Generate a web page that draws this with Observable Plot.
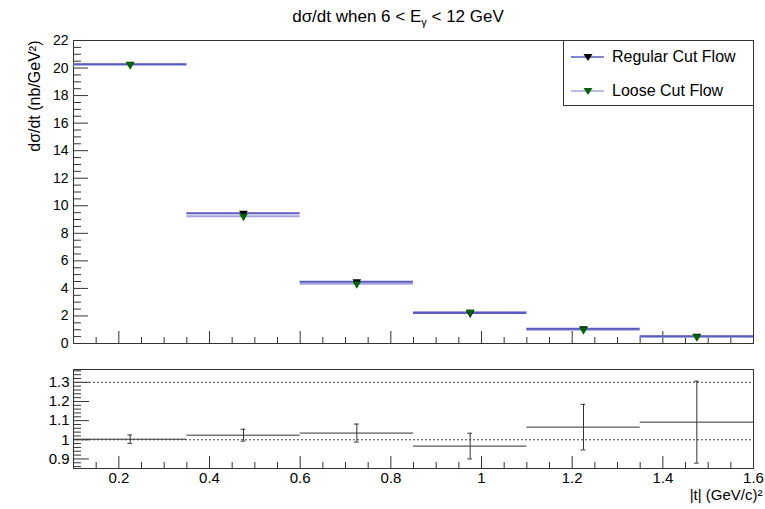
<!DOCTYPE html>
<html><head><meta charset="utf-8">
<script src="https://cdn.jsdelivr.net/npm/d3@7"></script>
<script src="https://cdn.jsdelivr.net/npm/@observablehq/plot@0.6"></script>
<style>
body{margin:0;background:#fff;}
#chart{position:relative;width:765px;height:509px;overflow:hidden;font-family:"Liberation Sans",Arial,sans-serif;color:#000;background:#fff}
#title{position:absolute;left:0;width:796px;top:7px;text-align:center;font-size:17px;white-space:nowrap}
#toppanel,#botpanel{position:absolute;left:0}
#toppanel{top:0}
#botpanel{top:352px}
#legend{position:absolute;left:563px;top:40px;width:189px;height:64px;border:1px solid #333;background:#fff;font-size:16px}
.row{position:absolute;left:0;height:20px;display:flex;align-items:center}
.row svg{margin-left:7px}
.row span{margin-left:7px;white-space:nowrap}
</style></head>
<body><div id="chart">
<div id="toppanel"></div>
<div id="botpanel"></div>
<div id="title">dσ/dt when 6 &lt; E<sub style="font-size:11px">γ</sub> &lt; 12 GeV</div>
<div id="legend"></div>
</div>
<script>
// ---- data ----
const binLo = [0.10, 0.35, 0.60, 0.85, 1.10, 1.35];
const binHi = [0.35, 0.60, 0.85, 1.10, 1.35, 1.60];
const regular = [20.28, 9.46, 4.48, 2.22, 1.07, 0.53];
const loose   = [20.25, 9.24, 4.33, 2.29, 1.00, 0.49];
const ratio    = [1.003, 1.024, 1.035, 0.967, 1.066, 1.092];
const ratioErr = [0.022, 0.031, 0.047, 0.067, 0.119, 0.214];
const seriesNames = ["Regular Cut Flow", "Loose Cut Flow"];
const seriesLine = ["#5a5ac0", "#a4a4de"];
const seriesMarker = ["#000000", "#006400"];
const xMajor = [0.2, 0.4, 0.6, 0.8, 1.0, 1.2, 1.4, 1.6];
const xLabels = ["0.2", "0.4", "0.6", "0.8", "1", "1.2", "1.4", "1.6"];
const yTopMajor = [0, 2, 4, 6, 8, 10, 12, 14, 16, 18, 20, 22];
const yBotMajor = [0.9, 1.0, 1.1, 1.2, 1.3];
const yBotLabels = ["0.9", "1", "1.1", "1.2", "1.3"];
const refLines = [1.0, 1.3];

(function () {
const bins = binLo.map((lo, i) => ({lo, hi: binHi[i], mid: (lo + binHi[i]) / 2,
  regular: regular[i], loose: loose[i], ratio: ratio[i], err: ratioErr[i]}));
const xMinor = d3.range(3, 32).map(k => k * 0.05).filter(v => Math.abs(v * 5 - Math.round(v * 5)) > 1e-6);
const yTopMinor = d3.range(0, 45).map(k => k * 0.5).filter(v => v % 2 !== 0);
const yBotMinor = d3.range(43, 69).map(k => k * 0.02).filter(v => Math.abs(v * 10 - Math.round(v * 10)) > 1e-6);

const W = 765, ML = 73, MR = 12;
const innerW = W - ML - MR;
const ink = "#333";

// ---- top panel ----
const TH = 352, TMT = 40, TMB = 9, innerTH = TH - TMT - TMB;
const topPlot = Plot.plot({
  width: W, height: TH, marginLeft: ML, marginRight: MR, marginTop: TMT, marginBottom: TMB,
  style: {fontFamily: "Liberation Sans, Arial, sans-serif", color: "#000", background: "#fff"},
  x: {domain: [0.1, 1.6], axis: null},
  y: {domain: [0, 22], axis: null},
  marks: [
    Plot.frame({stroke: ink}),
    Plot.axisY({ticks: yTopMajor, tickSize: 0, tickPadding: 5, fontSize: 14, label: null, tickFormat: d => String(d)}),
    Plot.tickY(yTopMajor, {y: d => d, stroke: ink, insetRight: innerW - 15}),
    Plot.tickY(yTopMinor, {y: d => d, stroke: ink, insetRight: innerW - 8}),
    Plot.tickX(xMajor, {x: d => d, stroke: ink, insetTop: innerTH - 12}),
    Plot.tickX(xMinor, {x: d => d, stroke: ink, insetTop: innerTH - 6}),
    Plot.ruleY(bins, {y: "loose", x1: "lo", x2: "hi", stroke: seriesLine[1], strokeWidth: 2}),
    Plot.ruleY(bins, {y: "regular", x1: "lo", x2: "hi", stroke: seriesLine[0], strokeWidth: 2}),
    Plot.dot(bins, {x: "mid", y: "regular", symbol: "triangle", rotate: 180, r: 3.2, fill: seriesMarker[0], stroke: "none"}),
    Plot.dot(bins, {x: "mid", y: "loose", symbol: "triangle", rotate: 180, r: 3.2, fill: seriesMarker[1], stroke: "none"}),
    Plot.text(["dσ/dt (nb/GeV²)"], {frameAnchor: "top-left", dx: -45, rotate: -90, textAnchor: "end", fontSize: 16, fill: "#000"})
  ]
});
document.getElementById("toppanel").appendChild(topPlot);

// ---- bottom panel ----
const BH = 157, BMT = 17, BMB = 41, innerBH = BH - BMT - BMB;
const cap = 0.005;
const botPlot = Plot.plot({
  width: W, height: BH, marginLeft: ML, marginRight: MR, marginTop: BMT, marginBottom: BMB,
  style: {fontFamily: "Liberation Sans, Arial, sans-serif", color: "#000", background: "#fff", overflow: "visible"},
  x: {domain: [0.1, 1.6], axis: null},
  y: {domain: [0.85, 1.367], axis: null},
  marks: [
    Plot.frame({stroke: ink}),
    Plot.axisY({ticks: yBotMajor, tickSize: 0, tickPadding: 4, fontSize: 15, label: null, tickFormat: (d, i) => yBotLabels[i]}),
    Plot.axisX({ticks: xMajor, tickSize: 0, tickPadding: 4, fontSize: 15, label: null, tickFormat: (d, i) => xLabels[i]}),
    Plot.tickY(yBotMajor, {y: d => d, stroke: ink, insetRight: innerW - 16}),
    Plot.tickY(yBotMinor, {y: d => d, stroke: ink, insetRight: innerW - 8}),
    Plot.tickX(xMajor, {x: d => d, stroke: ink, insetTop: innerBH - 12}),
    Plot.tickX(xMinor, {x: d => d, stroke: ink, insetTop: innerBH - 6}),
    Plot.ruleY(refLines, {y: d => d, stroke: "#444", strokeDasharray: "2,2"}),
    Plot.ruleY(bins, {y: "ratio", x1: "lo", x2: "hi", stroke: ink}),
    Plot.ruleX(bins, {x: "mid", y1: d => d.ratio - d.err, y2: d => d.ratio + d.err, stroke: ink}),
    Plot.ruleY(bins, {y: d => d.ratio - d.err, x1: d => d.mid - cap, x2: d => d.mid + cap, stroke: ink}),
    Plot.ruleY(bins, {y: d => d.ratio + d.err, x1: d => d.mid - cap, x2: d => d.mid + cap, stroke: ink}),
    Plot.text(["|t| (GeV/c)²"], {frameAnchor: "bottom-right", dx: 9, dy: 31, textAnchor: "end", fontSize: 15, fill: "#000"})
  ]
});
document.getElementById("botpanel").appendChild(botPlot);

// ---- legend ----
const legend = document.getElementById("legend");
seriesNames.forEach((name, i) => {
  const row = document.createElement("div");
  row.className = "row";
  row.style.top = (6 + i * 34) + "px";
  row.innerHTML = `<svg width="34" height="20"><line x1="0" x2="33" y1="10" y2="10" stroke="${seriesLine[i]}" stroke-width="1.5"/>` +
    `<path d="M12.5,7 L21.5,7 L17,14 Z" fill="${seriesMarker[i]}"/></svg><span>${name}</span>`;
  legend.appendChild(row);
});
})();
</script>
</body></html>
